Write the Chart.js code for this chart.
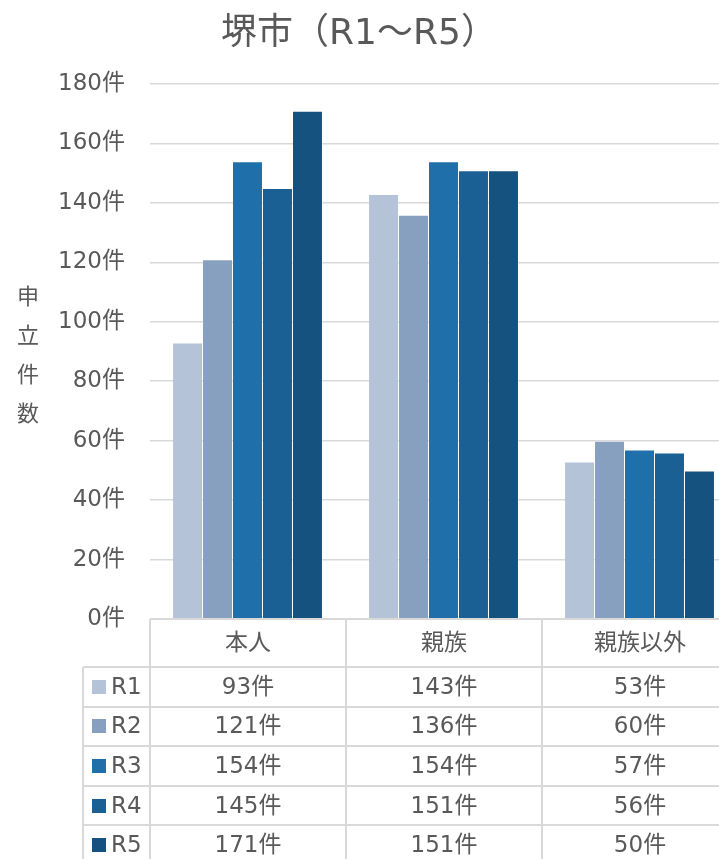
<!DOCTYPE html>
<html lang="ja">
<head>
<meta charset="utf-8">
<title>堺市（R1～R5）</title>
<script src="https://cdn.jsdelivr.net/npm/chart.js@4.4.1/dist/chart.umd.min.js"></script>
<style>
  html, body { margin: 0; padding: 0; overflow: hidden; background: #fff; width: 719px; height: 859px; }
  #wrap { position: absolute; left: 0; top: 0; width: 742px; height: 859px; }
</style>
</head>
<body>
<div id="wrap"><canvas id="c" width="742" height="859"></canvas></div>
<script>
// 区分（申立人）
const categories = ['本人', '親族', '親族以外'];
// 年度
const seriesNames = ['R1', 'R2', 'R3', 'R4', 'R5'];
// 年度ごとの申立件数
const r1 = [93, 143, 53];
const r2 = [121, 136, 60];
const r3 = [154, 154, 57];
const r4 = [145, 151, 56];
const r5 = [171, 151, 50];
// 縦軸目盛（件）
const yMin = 0;
const yMax = 180;
const yStep = 20;

const chartTitle = '堺市（R1～R5）';
const yAxisTitle = ['申', '立', '件', '数'];
const unit = '件';

const seriesValues = [r1, r2, r3, r4, r5];
const seriesColors = ['#b4c3d7', '#87a0c0', '#1f70aa', '#1b6094', '#16527f'];

const FONT = '"DejaVu Sans", "Noto Sans CJK JP", sans-serif';
const TEXT = '#595959';
const LINE = '#d9d9d9';

// タイトル・縦軸タイトル・データテーブルを描く
const tableAndLabels = {
  id: 'tableAndLabels',
  afterDraw(chart) {
    const { ctx, chartArea, scales } = chart;
    const xs = scales.x;
    const left = chartArea.left;
    const right = chartArea.right;
    const top = chartArea.bottom;
    const colW = (right - left) / categories.length;
    const headerH = 48;
    const rowH = 39.6;
    const legendLeft = 83;
    const bottom = top + headerH + rowH * seriesNames.length;

    ctx.save();

    // title
    ctx.fillStyle = TEXT;
    ctx.font = '36px ' + FONT;
    ctx.textAlign = 'center';
    ctx.textBaseline = 'middle';
    ctx.fillText(chartTitle, 359, 35);

    // vertical axis title, one character per line
    ctx.font = '22px ' + FONT;
    yAxisTitle.forEach((ch, i) => ctx.fillText(ch, 28, 298 + i * 39));

    // table grid
    ctx.strokeStyle = LINE;
    ctx.lineWidth = 2;
    const hLine = (x0, x1, y) => { ctx.beginPath(); ctx.moveTo(x0, Math.round(y)); ctx.lineTo(x1, Math.round(y)); ctx.stroke(); };
    const vLine = (x, y0, y1) => { ctx.beginPath(); ctx.moveTo(Math.round(x), y0); ctx.lineTo(Math.round(x), y1); ctx.stroke(); };
    hLine(left, right, top);
    for (let r = 0; r <= seriesNames.length; r++) {
      hLine(legendLeft, right, top + headerH + r * rowH);
    }
    vLine(legendLeft, Math.round(top + headerH), bottom);
    for (let c = 0; c <= categories.length; c++) {
      vLine(left + c * colW, top, bottom);
    }

    // header labels
    ctx.fillStyle = TEXT;
    ctx.font = '23px ' + FONT;
    ctx.textAlign = 'center';
    categories.forEach((cat, i) => {
      ctx.fillText(cat, xs.getPixelForTick(i), top + headerH / 2 + 1);
    });

    // rows: legend key + values
    seriesNames.forEach((name, r) => {
      const cy = top + headerH + r * rowH + rowH / 2;
      ctx.fillStyle = seriesColors[r];
      ctx.fillRect(92, Math.round(cy) - 7, 14, 14);
      ctx.fillStyle = TEXT;
      ctx.textAlign = 'left';
      ctx.fillText(name, 111, cy + 1);
      ctx.textAlign = 'center';
      seriesValues[r].forEach((v, i) => {
        ctx.fillText(v + unit, xs.getPixelForTick(i), cy + 1);
      });
    });

    ctx.restore();
  }
};

new Chart(document.getElementById('c'), {
  type: 'bar',
  data: {
    labels: categories,
    datasets: seriesNames.map((name, i) => ({
      label: name,
      data: seriesValues[i],
      backgroundColor: seriesColors[i],
      borderColor: 'rgba(255,255,255,0.25)',
      borderWidth: { top: 1, right: 1, bottom: 0, left: 0 },
      categoryPercentage: 0.765,
      barPercentage: 1.0
    }))
  },
  options: {
    responsive: false,
    animation: false,
    devicePixelRatio: 1,
    layout: { padding: { top: 84, bottom: 240, left: 0, right: 4 } },
    plugins: {
      legend: { display: false },
      title: { display: false },
      tooltip: { enabled: false }
    },
    scales: {
      x: { display: false },
      y: {
        min: yMin,
        max: yMax,
        afterFit(scale) { scale.width = 150; },
        ticks: {
          stepSize: yStep,
          padding: 25,
          color: TEXT,
          font: { family: FONT, size: 23 },
          callback: v => v + unit
        },
        grid: { color: LINE, lineWidth: 1.5, drawTicks: false },
        border: { display: false }
      }
    }
  },
  plugins: [tableAndLabels]
});
</script>
</body>
</html>
